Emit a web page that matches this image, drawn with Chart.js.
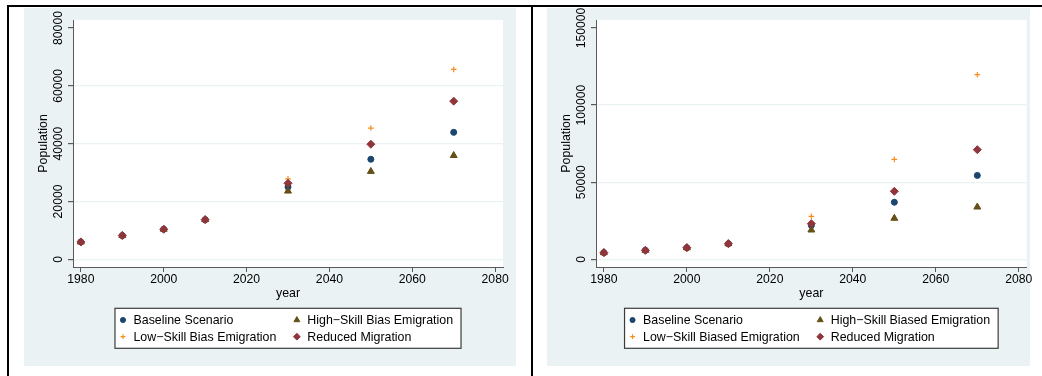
<!DOCTYPE html>
<html lang="en">
<head>
    <meta charset="UTF-8">
    <title>Population scenarios</title>
    <style>
        body {
            margin: 0;
            padding: 0;
            width: 1042px;
            height: 376px;
            background: white;
            position: relative;
            overflow: hidden;
            font-family: "Liberation Sans", Arial, sans-serif;
        }
        .rule { position: absolute; background: black; }
        canvas { position: absolute; }
    </style>
    <script src="https://cdn.jsdelivr.net/npm/chart.js"></script>
</head>
<body>
<div class="rule" style="left:7px; top:5px; width:1035px; height:2px;"></div>
<div class="rule" style="left:7px; top:5px; width:2px; height:371px;"></div>
<div class="rule" style="left:531px; top:5px; width:2px; height:371px;"></div>
<canvas id="leftChart" width="502" height="358" style="left:24px; top:8px;"></canvas>
<canvas id="rightChart" width="495" height="358" style="left:547px; top:8px;"></canvas>
<script>
    // years on the x axis
    const years = [1980, 1990, 2000, 2010, 2030, 2050, 2070];
    const xTicks = [1980, 2000, 2020, 2040, 2060, 2080];

    // left panel
    const leftBaseline = [6000, 8200, 10400, 13700, 25000, 34600, 43900];
    const leftHighSkill = [6000, 8200, 10400, 13700, 23600, 30400, 35900];
    const leftLowSkill = [6000, 8200, 10400, 13700, 27800, 45400, 65700];
    const leftReduced = [6000, 8200, 10400, 13700, 26300, 39800, 54700];
    const leftYTicks = [0, 20000, 40000, 60000, 80000];
    const leftLabels = ['Baseline Scenario', 'High\u2212Skill Bias Emigration',
                        'Low\u2212Skill Bias Emigration', 'Reduced Migration'];

    // right panel
    const rightBaseline = [4300, 5800, 7500, 10100, 22000, 37000, 54400];
    const rightHighSkill = [4300, 5800, 7500, 10100, 19000, 26600, 33900];
    const rightLowSkill = [4300, 5800, 7500, 10100, 27900, 64800, 119700];
    const rightReduced = [4300, 5800, 7500, 10100, 23100, 44100, 71100];
    const rightYTicks = [0, 50000, 100000, 150000];
    const rightLabels = ['Baseline Scenario', 'High\u2212Skill Biased Emigration',
                         'Low\u2212Skill Biased Emigration', 'Reduced Migration'];

    const FONT = '"Liberation Sans", Arial, sans-serif';
    const BG = 'rgb(234,242,243)';
    const AXIS = '#5a5a5a';

    // marker styles: baseline, high skill, low skill, reduced
    const styles = [
        { color: 'rgb(26,71,111)', shape: 'circle', r: 3, bw: 1 },
        { color: 'rgb(100,80,22)', shape: 'triangle', r: 4, bw: 1 },
        { color: 'rgb(247,140,30)', shape: 'cross', r: 2.8, bw: 1.2 },
        { color: 'rgb(144,53,59)', shape: 'rectRot', r: 4, bw: 1 }
    ];

    function drawMarker(ctx, st, x, y, k) {
        ctx.save();
        ctx.fillStyle = st.color;
        ctx.strokeStyle = st.color;
        ctx.lineWidth = st.bw;
        ctx.beginPath();
        const r = st.r * k;
        if (st.shape === 'circle') {
            ctx.arc(x, y, r, 0, Math.PI * 2);
        } else if (st.shape === 'triangle') {
            ctx.moveTo(x, y - r);
            ctx.lineTo(x + r * 0.866, y + r / 2);
            ctx.lineTo(x - r * 0.866, y + r / 2);
            ctx.closePath();
        } else if (st.shape === 'rectRot') {
            ctx.moveTo(x - r, y);
            ctx.lineTo(x, y - r);
            ctx.lineTo(x + r, y);
            ctx.lineTo(x, y + r);
            ctx.closePath();
        } else {
            ctx.moveTo(x - r, y); ctx.lineTo(x + r, y);
            ctx.moveTo(x, y - r); ctx.lineTo(x, y + r);
            ctx.stroke();
            ctx.restore();
            return;
        }
        ctx.fill();
        ctx.stroke();
        ctx.restore();
    }

    // background, rotated y labels and the 2x2 legend box
    const stataLook = {
        id: 'stataLook',
        beforeDraw(chart, args, opts) {
            const ctx = chart.ctx, a = chart.chartArea;
            ctx.save();
            ctx.clearRect(0, 0, chart.width, chart.height);
            ctx.fillStyle = BG;
            ctx.fillRect(0, 0, opts.bgWidth, chart.height);
            ctx.fillStyle = 'white';
            ctx.fillRect(a.left, a.top, a.right - a.left, a.bottom - a.top);
            ctx.restore();
        },
        afterDraw(chart, args, opts) {
            const ctx = chart.ctx, a = chart.chartArea;
            const ys = chart.scales.y;
            ctx.save();
            ctx.fillStyle = 'black';
            ctx.font = '12.2px ' + FONT;
            ctx.textAlign = 'center';
            ctx.textBaseline = 'middle';
            ys.ticks.forEach(t => {
                const py = ys.getPixelForValue(t.value);
                ctx.save();
                ctx.translate(35, py);
                ctx.rotate(-Math.PI / 2);
                ctx.fillText(String(t.value), 0, 0);
                ctx.restore();
            });

            // legend
            const labels = opts.labels;
            ctx.font = '12.4px ' + FONT;
            const w1 = Math.max(ctx.measureText(labels[0]).width, ctx.measureText(labels[2]).width);
            const w2 = Math.max(ctx.measureText(labels[1]).width, ctx.measureText(labels[3]).width);
            const total = 8 + 10.5 + w1 + 20.5 + 10.5 + w2 + 8;
            const cx = (a.left + a.right) / 2;
            const bx = cx - total / 2, by = 300.3, bh = 40;
            ctx.fillStyle = 'white';
            ctx.fillRect(bx, by, total, bh);
            ctx.strokeStyle = '#3c3c3c';
            ctx.lineWidth = 1.2;
            ctx.strokeRect(bx, by, total, bh);
            const col1 = bx + 8, col2 = bx + 8 + 10.5 + w1 + 20.5;
            const rows = [312, 328.7];
            [[0, col1, 0], [1, col2, 0], [2, col1, 1], [3, col2, 1]].forEach(([i, mx, row]) => {
                drawMarker(ctx, styles[i], mx, rows[row], 0.85);
                ctx.fillStyle = 'black';
                ctx.textAlign = 'left';
                ctx.fillText(labels[i], mx + 10.5, rows[row] + 0.5);
            });
            ctx.restore();
        }
    };

    function makeChart(id, series, labels, yTicks, yMin, yMax, padRight, bgWidth) {
        const yTop = yTicks[yTicks.length - 1];
        const datasets = series.map((vals, i) => ({
            label: labels[i],
            data: years.map((yr, k) => ({ x: yr, y: vals[k] })),
            pointStyle: styles[i].shape,
            pointRadius: styles[i].r,
            pointBorderWidth: styles[i].bw,
            backgroundColor: styles[i].color,
            borderColor: styles[i].color,
            showLine: false,
            order: [4, 3, 2, 1][i]
        }));
        return new Chart(document.getElementById(id), {
            type: 'scatter',
            data: { datasets: datasets },
            options: {
                responsive: false,
                animation: false,
                devicePixelRatio: 1,
                layout: { padding: { left: 0, right: padRight, top: 12, bottom: 59 } },
                plugins: {
                    legend: { display: false },
                    tooltip: { enabled: false },
                    stataLook: { labels: labels, bgWidth: bgWidth }
                },
                scales: {
                    x: {
                        type: 'linear',
                        min: 1978.1,
                        max: 2081.9,
                        afterBuildTicks: s => { s.ticks = xTicks.map(v => ({ value: v })); },
                        afterFit: s => { s.height = 40; },
                        ticks: {
                            autoSkip: false, maxRotation: 0, padding: 0,
                            color: 'black', font: { family: FONT, size: 12.2 },
                            callback: v => String(v)
                        },
                        grid: { drawOnChartArea: false, tickColor: AXIS, tickLength: 5 },
                        border: { color: AXIS, width: 1 },
                        title: {
                            display: true, text: 'year', color: 'black',
                            font: { family: FONT, size: 12.4 },
                            padding: { top: 0, bottom: 5.5 }
                        }
                    },
                    y: {
                        type: 'linear',
                        min: yMin,
                        max: yMax,
                        afterBuildTicks: s => { s.ticks = yTicks.map(v => ({ value: v })); },
                        afterFit: s => { s.width = 49; },
                        ticks: { display: false },
                        grid: {
                            color: c => (c.tick && c.tick.value === yTop) ? 'rgba(0,0,0,0)' : BG,
                            lineWidth: 1.2,
                            tickColor: AXIS,
                            tickLength: 5
                        },
                        border: { color: AXIS, width: 1 },
                        title: {
                            display: true, text: 'Population', color: 'black',
                            font: { family: FONT, size: 12.4 },
                            padding: { top: 12, bottom: 0 }
                        }
                    }
                }
            },
            plugins: [stataLook]
        });
    }

    makeChart('leftChart',
        [leftBaseline, leftHighSkill, leftLowSkill, leftReduced],
        leftLabels, leftYTicks, -2663, 82767, 23, 492);
    makeChart('rightChart',
        [rightBaseline, rightHighSkill, rightLowSkill, rightReduced],
        rightLabels, rightYTicks, -4994, 155188, 15.3, 483);
</script>
</body>
</html>
